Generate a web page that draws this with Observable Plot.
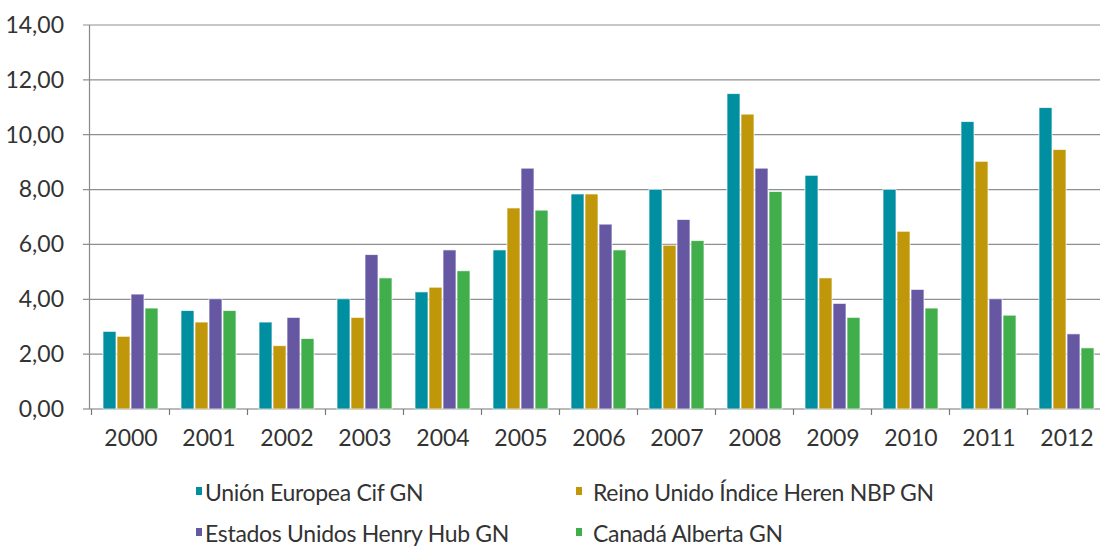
<!DOCTYPE html>
<html>
<head>
<meta charset="utf-8">
<script src="https://cdn.jsdelivr.net/npm/d3@7"></script>
<script src="https://cdn.jsdelivr.net/npm/@observablehq/plot@0.6"></script>
<style>
  body { margin: 0; background: #fff; font-family: Lato, "Open Sans", sans-serif; }
  #chart { position: relative; width: 1100px; height: 460px; overflow: hidden; }
  #legend { position: relative; width: 1100px; height: 89px; font-family: Lato, sans-serif; font-size: 23px; font-weight: 400; color: #333; letter-spacing: -0.3px; }
  .item { position: absolute; white-space: nowrap; line-height: 1; }
  .sw { position: absolute; width: 6px; height: 8px; }
</style>
</head>
<body>
<div id="chart"></div>
<div id="legend"></div>
<script>
const years = ["2000","2001","2002","2003","2004","2005","2006","2007","2008","2009","2010","2011","2012"];
const seriesNames = ["Unión Europea Cif GN", "Reino Unido Índice Heren NBP GN", "Estados Unidos Henry Hub GN", "Canadá Alberta GN"];
const seriesColors = ["#008fa0", "#bf9708", "#6657a3", "#40ae4a"];
const unionEuropea = [2.83, 3.59, 3.17, 4.02, 4.27, 5.80, 7.84, 8.01, 11.50, 8.52, 8.01, 10.48, 10.99];
const reinoUnido   = [2.65, 3.17, 2.31, 3.34, 4.44, 7.33, 7.84, 5.97, 10.75, 4.78, 6.48, 9.03, 9.46];
const estadosUnidos= [4.19, 4.02, 3.34, 5.63, 5.80, 8.78, 6.74, 6.91, 8.78, 3.85, 4.36, 4.02, 2.74];
const canada       = [3.68, 3.59, 2.57, 4.78, 5.04, 7.25, 5.80, 6.14, 7.93, 3.34, 3.68, 3.42, 2.23];
const yTicks = [0, 2, 4, 6, 8, 10, 12, 14];

const seriesValues = [unionEuropea, reinoUnido, estadosUnidos, canada];
const data = years.flatMap((yr, i) => seriesNames.map((s, j) => ({year: yr, series: s, value: seriesValues[j][i]})));
const fmt = v => d3.format(".2f")(v).replace(".", ",");

const chart = Plot.plot({
  width: 1100,
  height: 460,
  marginLeft: 90,
  marginRight: -8,
  marginTop: 25,
  marginBottom: 51,
  style: {fontFamily: "Lato, sans-serif", fontSize: "23px", fontWeight: 400, color: "#333", background: "transparent"},
  fx: {domain: years, paddingInner: 0.268, paddingOuter: 0.134, label: null},
  x: {domain: seriesNames, paddingInner: 0.08, paddingOuter: 0, axis: null},
  y: {domain: [0, 14], label: null},
  color: {domain: seriesNames, range: seriesColors},
  marks: [
    Plot.barY(data, {fx: "year", x: "series", y: "value", fill: "series", stroke: "#ffffff", strokeOpacity: 0.7, strokeWidth: 1}),
    Plot.axisY({ticks: yTicks, tickFormat: fmt, tickSize: 0, tickPadding: 38.5, label: null, letterSpacing: "-1.2px"}),
    Plot.axisFx({anchor: "bottom", tickSize: 0, tickPadding: 20, label: null, letterSpacing: "-1px"})
  ]
});
document.getElementById("chart").appendChild(chart);

// full-width grid lines, axis line and category boundary ticks, from the plot's own scales
const ys = chart.scale("y");
const fxs = chart.scale("fx");
const svg = d3.select(chart);
const g = svg.insert("g", ":scope > g").attr("class", "bg-grid");
const y0 = ys.apply(0);
yTicks.forEach(t => {
  g.append("line").attr("x1", 83).attr("x2", 1100).attr("y1", ys.apply(t)).attr("y2", ys.apply(t))
    .attr("stroke", t === 0 ? "#777" : "#8f8f8f").attr("stroke-width", 1.2);
});
g.append("line").attr("x1", 89.5).attr("x2", 89.5).attr("y1", ys.apply(14)).attr("y2", y0).attr("stroke", "#888").attr("stroke-width", 1.2);
const gap = (fxs.step - fxs.bandwidth) / 2;
years.forEach(yr => {
  const bx = fxs.apply(yr) - gap;
  g.append("line").attr("x1", bx).attr("x2", bx).attr("y1", y0).attr("y2", y0 + 6).attr("stroke", "#777").attr("stroke-width", 1.2);
});

// legend
const legend = document.getElementById("legend");
const pos = [[196, 205, 21.4], [576, 593, 21.4], [196, 205, 62.4], [576, 593, 62.4]];
seriesNames.forEach((s, i) => {
  const [sx, tx, ty] = pos[i];
  const sw = document.createElement("div");
  sw.className = "sw";
  sw.style.left = sx + "px"; sw.style.top = (ty + 6) + "px"; sw.style.background = seriesColors[i];
  legend.appendChild(sw);
  const t = document.createElement("div");
  t.className = "item";
  t.style.left = tx + "px"; t.style.top = ty + "px";
  t.textContent = s;
  legend.appendChild(t);
});
</script>
</body>
</html>
